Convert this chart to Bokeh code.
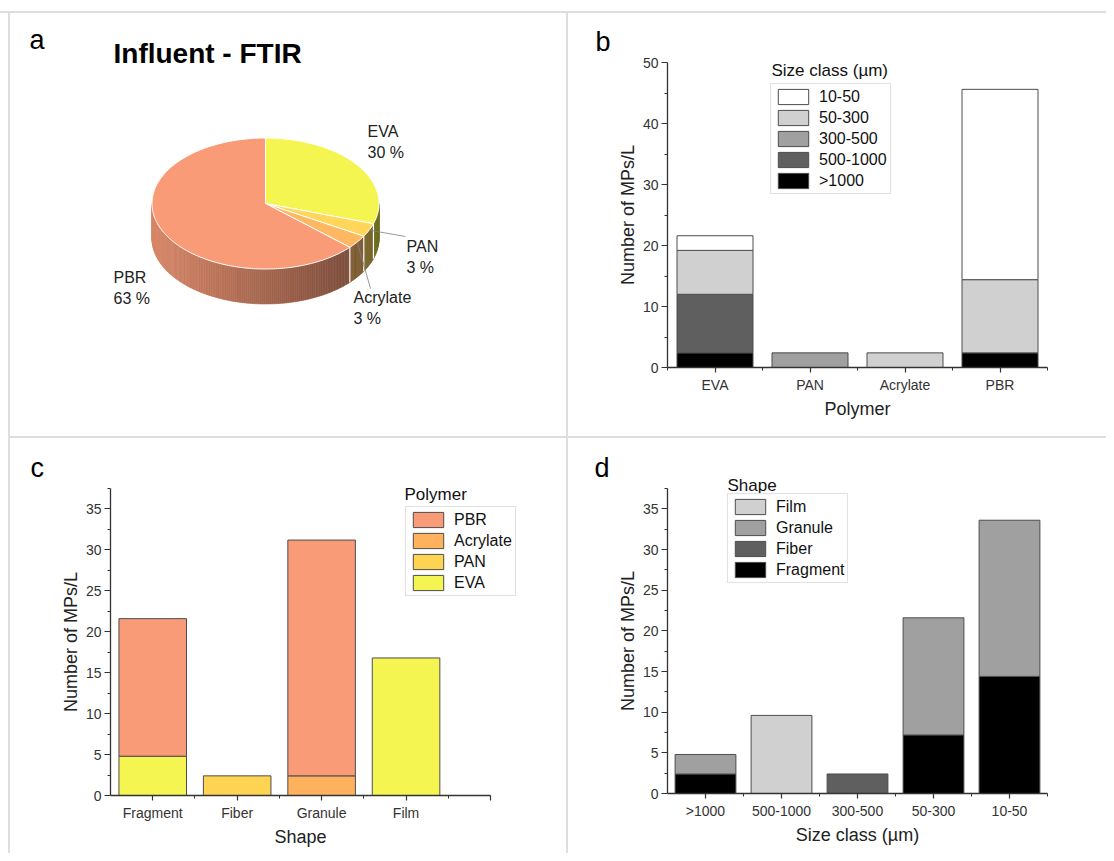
import numpy as np
from bokeh.plotting import figure
from bokeh.models import (Range1d, FixedTicker, Legend, LegendItem, Label, Div,
                          ColumnDataSource, LinearAxis)
from bokeh.layouts import row, column
from bokeh.embed import file_html
from bokeh.resources import INLINE
from bokeh.core.properties import value

FONT = "Liberation Sans"

# ---------------- data ----------------
# (a) pie: share of polymers (MPs/L)
pie_labels = ["EVA", "PAN", "Acrylate", "PBR"]
pie_values = [21.6, 2.4, 2.4, 45.6]

# (b) polymer x size class (stack order bottom -> top)
b_polymers = ["EVA", "PAN", "Acrylate", "PBR"]
b_size_classes = [">1000", "500-1000", "300-500", "50-300", "10-50"]
b_gt1000 = [2.4, 0.0, 0.0, 2.4]
b_500_1000 = [9.6, 0.0, 0.0, 0.0]
b_300_500 = [0.0, 2.4, 0.0, 0.0]
b_50_300 = [7.2, 0.0, 2.4, 12.0]
b_10_50 = [2.4, 0.0, 0.0, 31.2]
b_legend_order = ["10-50", "50-300", "300-500", "500-1000", ">1000"]
b_y_ticks = [0, 10, 20, 30, 40, 50]
b_y_minor = [5, 15, 25, 35, 45]

# (c) shape x polymer (stack order bottom -> top)
c_shapes = ["Fragment", "Fiber", "Granule", "Film"]
c_polymers = ["EVA", "PAN", "Acrylate", "PBR"]
c_EVA = [4.8, 0.0, 0.0, 16.8]
c_PAN = [0.0, 2.4, 0.0, 0.0]
c_Acrylate = [0.0, 0.0, 2.4, 0.0]
c_PBR = [16.8, 0.0, 28.8, 0.0]
c_legend_order = ["PBR", "Acrylate", "PAN", "EVA"]

# (d) size class x shape (stack order bottom -> top)
d_size_classes = [">1000", "500-1000", "300-500", "50-300", "10-50"]
d_shapes = ["Fragment", "Fiber", "Granule", "Film"]
d_Fragment = [2.4, 0.0, 0.0, 7.2, 14.4]
d_Fiber = [0.0, 0.0, 2.4, 0.0, 0.0]
d_Granule = [2.4, 0.0, 0.0, 14.4, 19.2]
d_Film = [0.0, 9.6, 0.0, 0.0, 0.0]
d_legend_order = ["Film", "Granule", "Fiber", "Fragment"]

cd_y_ticks = [0, 5, 10, 15, 20, 25, 30, 35]
cd_y_minor = [2.5, 7.5, 12.5, 17.5, 22.5, 27.5, 32.5, 37.5]

# ---------------- styles ----------------
polymer_colors = {"PBR": "#f99b77", "Acrylate": "#ffb25e", "PAN": "#ffd452", "EVA": "#f5f552"}
pie_colors = {"PBR": "#f99b77", "Acrylate": "#ffb862", "PAN": "#ffd65a", "EVA": "#f5f552"}
size_colors = {"10-50": "#ffffff", "50-300": "#d0d0d0", "300-500": "#a0a0a0",
               "500-1000": "#5f5f5f", ">1000": "#000000"}
shape_colors = {"Film": "#d0d0d0", "Granule": "#a0a0a0", "Fiber": "#5f5f5f", "Fragment": "#000000"}
OUTLINE = "#4d4d4d"
SEP = "#dedede"


def shade(hexc, f):
    r, g, b = int(hexc[1:3], 16), int(hexc[3:5], 16), int(hexc[5:7], 16)
    return "#%02x%02x%02x" % (min(255, int(r * f)), min(255, int(g * f)), min(255, int(b * f)))


def pie_panel():
    W, H = 556, 423
    p = figure(width=W, height=H, x_range=Range1d(0, W), y_range=Range1d(0, H),
               output_backend="svg", toolbar_location=None, min_border=0,
               min_border_left=0, min_border_right=0, min_border_top=0, min_border_bottom=0,
               x_axis_location=None, y_axis_location=None)
    p.xgrid.visible = False
    p.ygrid.visible = False
    p.outline_line_color = None
    cx, cy, rx, ry, depth = 255.0, 233.0, 113.5, 65.5, 35.0
    total = float(sum(pie_values))
    shares = [v / total for v in pie_values]
    bounds = []
    a = 90.0
    for s in shares:
        bounds.append((a, a - 360.0 * s))
        a -= 360.0 * s

    def pt(deg, dz=0.0):
        t = np.radians(deg)
        return cx + rx * np.cos(t), cy + ry * np.sin(t) - dz

    # side wall (front half only), shaded strips
    sx, sy, sc = [], [], []
    for (a0, a1), name in zip(bounds, pie_labels):
        hi, lo = min(a0, 0.0), max(a1, -180.0)
        if hi <= lo:
            continue
        n = max(2, int(np.ceil(hi - lo)))
        ts = np.linspace(lo, hi, n + 1)
        for t0, t1 in zip(ts[:-1], ts[1:]):
            x0, y0 = pt(t0)
            x1, y1 = pt(t1)
            sx.append([x0, x1, x1, x0])
            sy.append([y0, y1, y1 - depth, y0 - depth])
            f = 0.66 - 0.21 * np.cos(np.radians((t0 + t1) / 2))
            sc.append(shade(pie_colors[name], f))
    p.patches(sx, sy, fill_color=sc, line_color=sc, line_width=0.6)

    # white separators on the side wall
    ex0, ey0, ex1, ey1 = [], [], [], []
    for (a0, a1) in bounds:
        if -180.0 < a1 < 0.0:
            x0, y0 = pt(a1)
            ex0.append(x0); ey0.append(y0); ex1.append(x0); ey1.append(y0 - depth)
    p.segment(ex0, ey0, ex1, ey1, line_color="white", line_width=1.2)

    # top faces
    tx, ty, tc = [], [], []
    for (a0, a1), name in zip(bounds, pie_labels):
        ts = np.linspace(a0, a1, max(3, int(abs(a0 - a1)) + 1))
        tx.append([cx] + [pt(t)[0] for t in ts])
        ty.append([cy] + [pt(t)[1] for t in ts])
        tc.append(pie_colors[name])
    p.patches(tx, ty, fill_color=tc, line_color="white", line_width=1.0)

    # labels
    label_pos = {"EVA": (357, 305), "PAN": (396, 190), "Acrylate": (343, 139), "PBR": (103, 159)}
    leader_end = {"PAN": (395, 200), "Acrylate": (360, 148)}
    nx, ny, nt, px_, py_, pt_ = [], [], [], [], [], []
    lx0, ly0, lx1, ly1 = [], [], [], []
    for (a0, a1), name, s in zip(bounds, pie_labels, shares):
        x, y = label_pos[name]
        nx.append(x); ny.append(y); nt.append(name)
        px_.append(x); py_.append(y - 21); pt_.append(f"{100 * s:.0f} %")
        if name in leader_end:
            sx0, sy0 = pt((a0 + a1) / 2)
            lx0.append(sx0); ly0.append(sy0)
            lx1.append(leader_end[name][0]); ly1.append(leader_end[name][1])
    p.segment(lx0, ly0, lx1, ly1, line_color="#808080", line_width=0.8)
    for xx, yy, tt in ((nx, ny, nt), (px_, py_, pt_)):
        p.text(x=xx, y=yy, text=tt, text_font=value(FONT), text_font_size=value("16px"),
               text_baseline="alphabetic", text_align="left", text_color="#222222")

    p.text(x=[103], y=[383], text=["Influent - FTIR"], text_font=value(FONT),
           text_font_size=value("28px"), text_font_style="bold", text_baseline="alphabetic",
           text_color="#000000")
    p.text(x=[19], y=[397], text=["a"], text_font=value(FONT), text_font_size=value("27px"),
           text_baseline="alphabetic", text_color="#000000")
    return p


def bar_panel(w, h, box, cats, x_end, x_major, x_minor, y_end, y_major, y_minor,
              stack_names, stack_cols, color_map, x_title, legend_order, legend_xy,
              legend_title, title_xy, letter, letter_xy):
    # box = plot region in canvas pixels (left, top, right, bottom); frame = whole canvas
    L, T, R, B = box
    dx = (x_end - 0.5) / (R - L)
    dy = y_end / (B - T)
    xr = Range1d(0.5 - L * dx, x_end + (w - R) * dx)
    yr = Range1d(-(h - B) * dy, y_end + T * dy)
    p = figure(width=w, height=h, x_range=xr, y_range=yr,
               output_backend="svg", toolbar_location=None, min_border=0,
               min_border_left=0, min_border_right=0, min_border_top=0, min_border_bottom=0,
               x_axis_location=None, y_axis_location=None)
    p.xgrid.visible = False
    p.ygrid.visible = False
    p.outline_line_color = None
    p.background_fill_color = "white"

    xs = list(range(1, len(cats) + 1))
    base = [0.0] * len(xs)
    rs = []
    for name, col in zip(stack_names, stack_cols):
        top = [b0 + v for b0, v in zip(base, col)]
        src = ColumnDataSource(dict(x=xs, bottom=list(base), top=top,
                                    la=[1.0 if v > 0 else 0.0 for v in col]))
        r = p.vbar(x="x", bottom="bottom", top="top", width=0.8, source=src,
                   fill_color=color_map[name], line_color=OUTLINE, line_width=1,
                   line_alpha="la")
        rs.append((r, next((i for i, v in enumerate(col) if v > 0), 0)))
        base = top

    overrides = {t: "" for t in x_major}
    for xv, c in zip(xs, cats):
        overrides[xv] = c
    xaxis = LinearAxis(fixed_location=0, bounds=(0.5, x_end),
                       ticker=FixedTicker(ticks=x_major, minor_ticks=x_minor),
                       major_label_overrides=overrides, axis_label=x_title)
    yaxis = LinearAxis(fixed_location=0.5, bounds=(0, y_end),
                       ticker=FixedTicker(ticks=y_major, minor_ticks=y_minor),
                       axis_label="Number of MPs/L")
    for ax in (xaxis, yaxis):
        ax.axis_line_color = "#333333"
        ax.axis_line_width = 1.3
        ax.major_tick_line_color = "#333333"
        ax.minor_tick_line_color = "#333333"
        ax.major_tick_line_width = 1.2
        ax.minor_tick_line_width = 1.0
        ax.major_tick_in = 0
        ax.minor_tick_in = 0
        ax.minor_tick_out = 3
        ax.major_label_text_font = FONT
        ax.major_label_text_font_size = "14px"
        ax.major_label_text_color = "#333333"
        ax.axis_label_text_font = FONT
        ax.axis_label_text_font_size = "18px"
        ax.axis_label_text_font_style = "normal"
        ax.axis_label_text_color = "#222222"
    xaxis.major_tick_out = 5
    yaxis.major_tick_out = 6
    xaxis.major_label_standoff = 4
    yaxis.major_label_standoff = 3
    xaxis.axis_label_standoff = 3
    yaxis.axis_label_standoff = 2
    p.add_layout(xaxis, "below")
    p.add_layout(yaxis, "left")

    items = []
    for n in legend_order:
        r, idx = rs[stack_names.index(n)]
        items.append(LegendItem(label=value(n), renderers=[r], index=idx))
    legend = Legend(items=items, location=(legend_xy[0], h - legend_xy[1]), orientation="vertical",
                    border_line_color="#c4c4c4", border_line_width=1,
                    background_fill_color="white", background_fill_alpha=1.0,
                    glyph_width=38, glyph_height=19, label_height=19,
                    label_standoff=7, spacing=2, padding=3, margin=0,
                    label_text_font=FONT, label_text_font_size="16px",
                    label_text_color="#111111", label_text_baseline="middle")
    p.add_layout(legend)
    p.add_layout(Label(x=title_xy[0], y=h - title_xy[1], x_units="screen", y_units="screen",
                       text=legend_title, text_font=FONT, text_font_size="17px",
                       text_baseline="alphabetic", text_color="#111111", level="overlay"))
    p.add_layout(Label(x=letter_xy[0], y=h - letter_xy[1], x_units="screen", y_units="screen",
                       text=letter, text_font=FONT, text_font_size="27px",
                       text_baseline="alphabetic", text_color="#000000", level="overlay"))
    return p


pa = pie_panel()

# positions below are canvas pixels from the top-left of each panel
pb = bar_panel(538, 423, (99, 49, 479, 354), b_polymers, 4.5, [1, 2, 3, 4],
               [0.5, 1.5, 2.5, 3.5, 4.5], 50, b_y_ticks, b_y_minor,
               b_size_classes, [b_gt1000, b_500_1000, b_300_500, b_50_300, b_10_50],
               size_colors, "Polymer", b_legend_order, (202, 181),
               "Size class (µm)", (203, 57), "b", (27, 28))

pc = bar_panel(556, 415, (100, 50, 480, 357), c_shapes, 5.0, [1, 2, 3, 4, 5],
               [1.5, 2.5, 3.5, 4.5], 37.5, cd_y_ticks, cd_y_minor,
               c_polymers, [c_EVA, c_PAN, c_Acrylate, c_PBR],
               polymer_colors, "Shape", c_legend_order, (395, 158),
               "Polymer", (394, 56), "c", (20, 29))

pd = bar_panel(538, 415, (99, 50, 479, 355), d_size_classes, 5.5, [1, 2, 3, 4, 5],
               [1.5, 2.5, 3.5, 4.5, 5.5], 37.5, cd_y_ticks, cd_y_minor,
               d_shapes, [d_Fragment, d_Fiber, d_Granule, d_Film],
               shape_colors, "Size class (µm)", d_legend_order, (159, 145),
               "Shape", (159, 47), "d", (26, 29))


def strip(w, h, color):
    return Div(text="", width=w, height=h, margin=0, styles={"background-color": color})


layout = column(
    strip(1106, 11, "#ffffff"),
    strip(1106, 2, SEP),
    row(
        strip(8, 840, "#ffffff"),
        strip(2, 840, SEP),
        column(
            row(pa, strip(2, 423, SEP), pb),
            strip(1096, 2, SEP),
            row(pc, strip(2, 415, SEP), pd),
        ),
    ),
)

open("out.html", "w").write(file_html(layout, INLINE))
